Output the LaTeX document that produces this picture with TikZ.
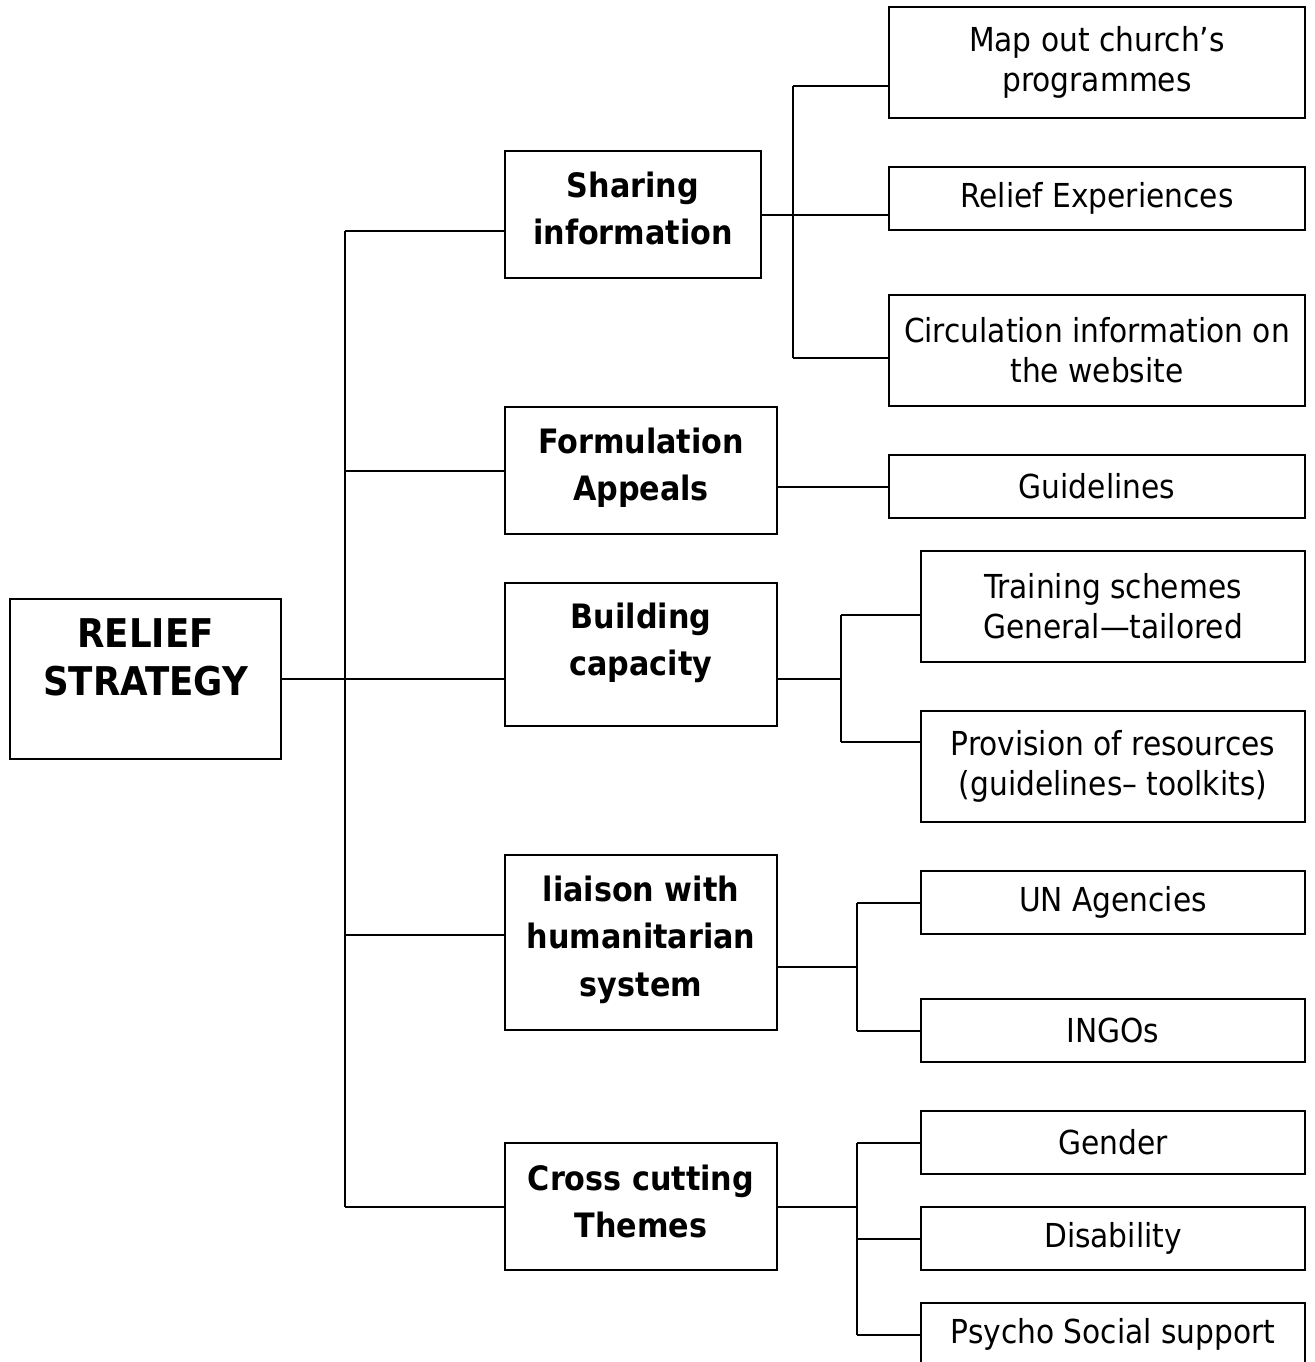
\documentclass[tikz,border=0pt]{standalone}
\usepackage{fontspec}
\setmainfont{DejaVu Sans Condensed}
% shift the lines up while keeping the box's reported size, so the node stays put
\newcommand\liftup[2]{\raisebox{#1}[\height][\depth]{\begin{tabular}{@{}c@{}}#2\end{tabular}}}
\begin{document}
\begin{tikzpicture}[x=0.5pt,y=-0.5pt,
  box/.style={draw, line width=1pt, align=center, inner sep=0pt},
  leaf/.style={box, font=\fontsize{16.5}{20}\selectfont},
  mid/.style={box, font=\bfseries\fontsize{16.8}{23.7}\selectfont},
  rootbox/.style={box, font=\bfseries\fontsize{19.8}{24}\selectfont},
  wire/.style={line width=1pt}]
\useasboundingbox (0,0) rectangle (1314,1362);

% root
\node[rootbox, minimum width=135.5pt, minimum height=80pt] (root) at (145.5,679)
  {\liftup{8.5pt}{RELIEF\\STRATEGY}};

% second level
\node[mid, minimum width=128pt, minimum height=63.5pt] (share) at (633,214.5) {\liftup{1.5pt}{Sharing\\information}};
\node[mid, minimum width=136pt, minimum height=63.5pt] (form) at (641,470.5) {\liftup{1.5pt}{Formulation\\Appeals}};
\node[mid, minimum width=136pt, minimum height=71.5pt] (build) at (641,654.5) {\liftup{6pt}{Building\\capacity}};
\node[mid, minimum width=136pt, minimum height=87.5pt] (liaison) at (641,942.5) {\liftup{1.5pt}{liaison with\\humanitarian\\system}};
\node[mid, minimum width=136pt, minimum height=63.5pt] (cross) at (641,1206.5) {\liftup{1pt}{Cross cutting\\Themes}};

% third level
\node[leaf, minimum width=208pt, minimum height=55.5pt] (mapout) at (1097,62.5) {Map out church’s\\programmes};
\node[leaf, minimum width=208pt, minimum height=31.5pt] (relexp) at (1097,198.5) {Relief Experiences};
\node[leaf, minimum width=208pt, minimum height=55.5pt] (circ) at (1097,350.5) {Circulation information on\\the website};
\node[leaf, minimum width=208pt, minimum height=31.5pt] (guide) at (1097,486.5) {Guidelines};
\node[leaf, minimum width=192pt, minimum height=55.5pt] (train) at (1113,606.5) {Training schemes\\General—tailored};
\node[leaf, minimum width=192pt, minimum height=55.5pt] (prov) at (1113,766.5) {Provision of resources\\(guidelines– toolkits)};
\node[leaf, minimum width=192pt, minimum height=31.5pt] (un) at (1113,902.5) {UN Agencies};
\node[leaf, minimum width=192pt, minimum height=31.5pt] (ingo) at (1113,1030.5) {INGOs};
\node[leaf, minimum width=192pt, minimum height=31.5pt] (gender) at (1113,1142.5) {Gender};
\node[leaf, minimum width=192pt, minimum height=31.5pt] (disab) at (1113,1238.5) {Disability};
\node[leaf, minimum width=192pt, minimum height=31.5pt] (psycho) at (1113,1334.5) {Psycho Social support};

% main trunk
\coordinate (tTop) at (345,231);
\coordinate (tForm) at (345,470.5);
\coordinate (tLia) at (345,935);
\coordinate (tBot) at (345,1206.5);
\draw[wire] (tTop) -- (tBot);
\draw[wire] (tTop) -- (tTop -| share.west);
\draw[wire] (tForm) -- (form.west);
\draw[wire] (root.east) -- (root.east -| build.west);
\draw[wire] (tLia) -- (tLia -| liaison.west);
\draw[wire] (tBot) -- (cross.west);

% sharing information branch
\coordinate (sTop) at (793,86);
\coordinate (sBot) at (793,358);
\draw[wire] (sTop) -- (sBot);
\draw[wire] (sTop) -- (sTop -| mapout.west);
\draw[wire] (sBot) -- (sBot -| circ.west);
\draw[wire] (share.east) -- (share.east -| relexp.west);

% formulation appeals branch
\draw[wire] (guide.west -| form.east) -- (guide.west);

% building capacity branch
\coordinate (bTop) at (841,615);
\coordinate (bMid) at (841,679);
\coordinate (bBot) at (841,742);
\draw[wire] (bMid -| build.east) -- (bMid);
\draw[wire] (bTop) -- (bBot);
\draw[wire] (bTop) -- (bTop -| train.west);
\draw[wire] (bBot) -- (bBot -| prov.west);

% liaison branch
\coordinate (lTop) at (857,902.5);
\coordinate (lMid) at (857,967);
\coordinate (lBot) at (857,1030.5);
\draw[wire] (lMid -| liaison.east) -- (lMid);
\draw[wire] (lTop) -- (lBot);
\draw[wire] (lTop) -- (un.west);
\draw[wire] (lBot) -- (ingo.west);

% cross cutting branch
\coordinate (cTop) at (857,1142.5);
\coordinate (cMid) at (857,1238.5);
\coordinate (cBot) at (857,1334.5);
\draw[wire] (cross.east) -- (cross.east -| cTop);
\draw[wire] (cTop) -- (cBot);
\draw[wire] (cTop) -- (gender.west);
\draw[wire] (cMid) -- (disab.west);
\draw[wire] (cBot) -- (psycho.west);
\end{tikzpicture}
\end{document}
